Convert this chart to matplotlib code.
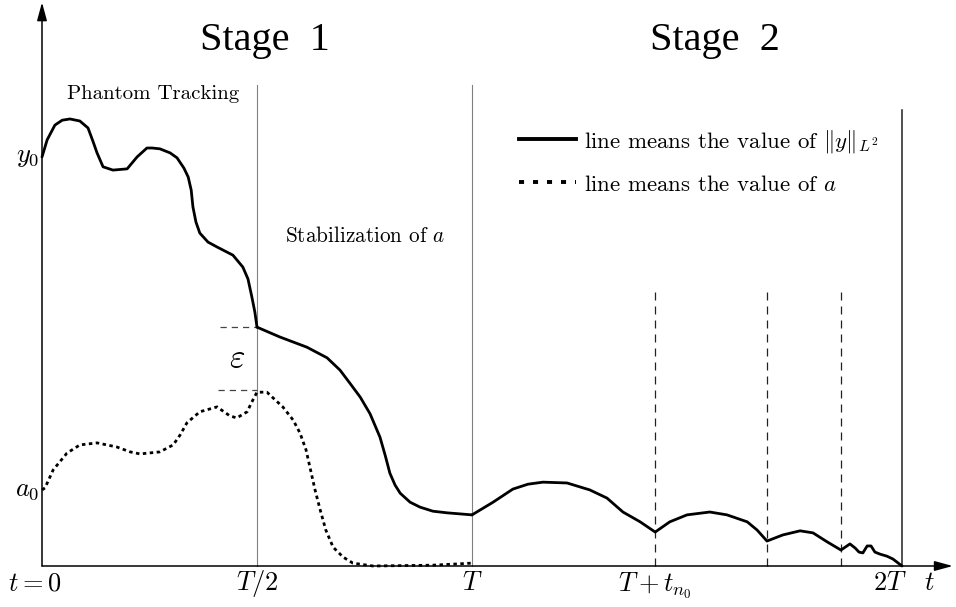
import matplotlib
matplotlib.use('Agg')
import matplotlib.pyplot as plt
from matplotlib.lines import Line2D
import numpy as np

plt.rcParams['mathtext.fontset'] = 'cm'
plt.rcParams['font.family'] = 'cmr10'
plt.rcParams['axes.unicode_minus'] = False

# time in units of T, height in units of y0
# ||y||_{L^2} on stage 1 (phantom tracking part)
tY1 = [0.0, 0.012, 0.030, 0.047, 0.065, 0.088, 0.107, 0.119, 0.128, 0.142,
       0.165, 0.198, 0.221, 0.244, 0.256, 0.274, 0.298, 0.314, 0.330, 0.340,
       0.347, 0.351, 0.358, 0.367, 0.386, 0.407, 0.444, 0.467, 0.479, 0.488,
       0.495, 0.5]
hY1 = [1.0, 1.042, 1.078, 1.090, 1.093, 1.088, 1.071, 1.037, 1.010, 0.976,
       0.968, 0.971, 1.000, 1.022, 1.022, 1.020, 1.010, 0.998, 0.973, 0.951,
       0.919, 0.878, 0.841, 0.814, 0.792, 0.780, 0.760, 0.731, 0.702, 0.658,
       0.621, 0.584]

# ||y||_{L^2} on stage 1 (stabilization of a)
tY2 = [0.5, 0.553, 0.616, 0.663, 0.693, 0.716, 0.740, 0.763, 0.786, 0.798,
       0.809, 0.821, 0.833, 0.856, 0.879, 0.909, 0.942, 1.0]
hY2 = [0.584, 0.560, 0.535, 0.509, 0.479, 0.447, 0.413, 0.372, 0.315, 0.271,
       0.227, 0.198, 0.178, 0.156, 0.144, 0.134, 0.130, 0.125]

# ||y||_{L^2} on stage 2
tY3 = [1.0, 1.049, 1.095, 1.130, 1.165, 1.221, 1.274, 1.314, 1.351, 1.391,
       1.426, 1.460, 1.500, 1.553, 1.593, 1.640, 1.663, 1.686, 1.723, 1.763,
       1.793, 1.826, 1.858, 1.879, 1.891, 1.900, 1.909, 1.919, 1.928, 1.937,
       1.949, 1.965, 1.979, 2.0]
hY3 = [0.125, 0.156, 0.188, 0.200, 0.205, 0.203, 0.186, 0.166, 0.132, 0.108,
       0.083, 0.108, 0.125, 0.132, 0.125, 0.108, 0.088, 0.061, 0.076, 0.086,
       0.081, 0.059, 0.039, 0.054, 0.044, 0.034, 0.032, 0.049, 0.049, 0.034,
       0.029, 0.024, 0.017, 0.0]

# value of a
tA = [0.0, 0.007, 0.026, 0.058, 0.088, 0.128, 0.174, 0.205, 0.228, 0.274,
      0.305, 0.321, 0.337, 0.367, 0.407, 0.437, 0.453, 0.477, 0.488, 0.5,
      0.523, 0.560, 0.584, 0.600, 0.614, 0.623, 0.635, 0.647, 0.660, 0.677,
      0.700, 0.723, 0.770, 0.909, 1.0]
hA = [0.186, 0.191, 0.235, 0.276, 0.296, 0.301, 0.291, 0.279, 0.274, 0.279,
      0.296, 0.320, 0.350, 0.377, 0.389, 0.367, 0.362, 0.377, 0.401, 0.425,
      0.425, 0.389, 0.357, 0.325, 0.284, 0.242, 0.186, 0.137, 0.088, 0.046,
      0.022, 0.007, 0.0, 0.002, 0.007]

tN = [1.426, 1.686, 1.858]       # T + t_n
eps_levels = [0.584, 0.430]      # y(T/2) and a(T/2)

fig = plt.figure(figsize=(9.56, 6.07), dpi=100)
ax = fig.add_axes([0, 0, 1, 1])
ax.set_xlim(-42 / 430, 914 / 430)
ax.set_ylim(-41 / 409, 566 / 409)
ax.axis('off')

# axes with arrows
ax.annotate('', xy=(2.118, 0), xytext=(0, 0),
            arrowprops=dict(arrowstyle='-|>,head_length=1.1,head_width=0.3', lw=1.1, color='k',
                            shrinkA=0, shrinkB=0))
ax.annotate('', xy=(0, 1.378), xytext=(0, 0),
            arrowprops=dict(arrowstyle='-|>,head_length=1.1,head_width=0.3', lw=1.1, color='k',
                            shrinkA=0, shrinkB=0))

# stage separators
ax.plot([0.5, 0.5], [0, 1.176], color='#808080', lw=0.8)
ax.plot([1.0, 1.0], [0, 1.176], color='#808080', lw=0.8)
ax.plot([2.0, 2.0], [0, 1.115], color='#222222', lw=1.1)
for tn in tN:
    ax.plot([tn, tn], [0, 0.682], color='#222222', lw=0.9, linestyle=(0, (6.4, 4.8)))

# epsilon gap
ax.plot([0.414, 0.5], [eps_levels[0]] * 2, color='#444444', lw=0.9, linestyle=(0, (5, 4)))
ax.plot([0.409, 0.5], [eps_levels[1]] * 2, color='#444444', lw=0.9, linestyle=(0, (5, 4)))
ax.text(0.453, 0.507, r'$\varepsilon$', fontsize=24, ha='center', va='center')

# curves
for tt, hh in [(tY1, hY1), (tY2, hY2), (tY3, hY3)]:
    ax.plot(tt, hh, color='k', lw=2.0, solid_joinstyle='round', solid_capstyle='round')
ax.plot(tA, hA, color='k', lw=2.0, linestyle=(0, (1.25, 1.25)))

# headings
ax.text(0.519, 1.262, 'Stage  1', family='Liberation Serif', fontsize=29, ha='center', va='baseline')
ax.text(1.565, 1.262, 'Stage  2', family='Liberation Serif', fontsize=29, ha='center', va='baseline')
ax.text(0.058, 1.154, 'Phantom Tracking', fontsize=15, ha='left', va='center')
ax.text(0.565, 0.807, r'Stabilization of $a$', fontsize=15.3, ha='left', va='center')

# legend
handles = [Line2D([], [], color='k', lw=2.8),
           Line2D([], [], color='k', lw=2.8, linestyle=(0, (1.3, 2.3)))]
labels = [r'line means the value of $\Vert y\Vert_{L^2}$', r'line means the value of $a$']
ax.legend(handles, labels, loc='upper left', bbox_to_anchor=(519 / 956, 1 - 128 / 607),
          frameon=False, fontsize=16.5, handlelength=2.5, handletextpad=0.35,
          labelspacing=0.85, borderpad=0, borderaxespad=0)

# axis labels
ax.text(-0.005, 1.0, r'$y_0$', fontsize=19, ha='right', va='center')
ax.text(-0.005, 0.186, r'$a_0$', fontsize=19, ha='right', va='center')
ax.text(-0.016, -0.042, r'$t=0$', fontsize=19, ha='center', va='center')
ax.text(0.5, -0.042, r'$T/2$', fontsize=19, ha='center', va='center')
ax.text(1.0, -0.042, r'$T$', fontsize=19, ha='center', va='center')
ax.text(1.426, -0.048, r'$T+t_{n_0}$', fontsize=19, ha='center', va='center')
ax.text(1.972, -0.042, r'$2T$', fontsize=19, ha='center', va='center')
ax.text(2.063, -0.042, r'$t$', fontsize=19, ha='center', va='center')

fig.savefig('out.png', dpi=100)
